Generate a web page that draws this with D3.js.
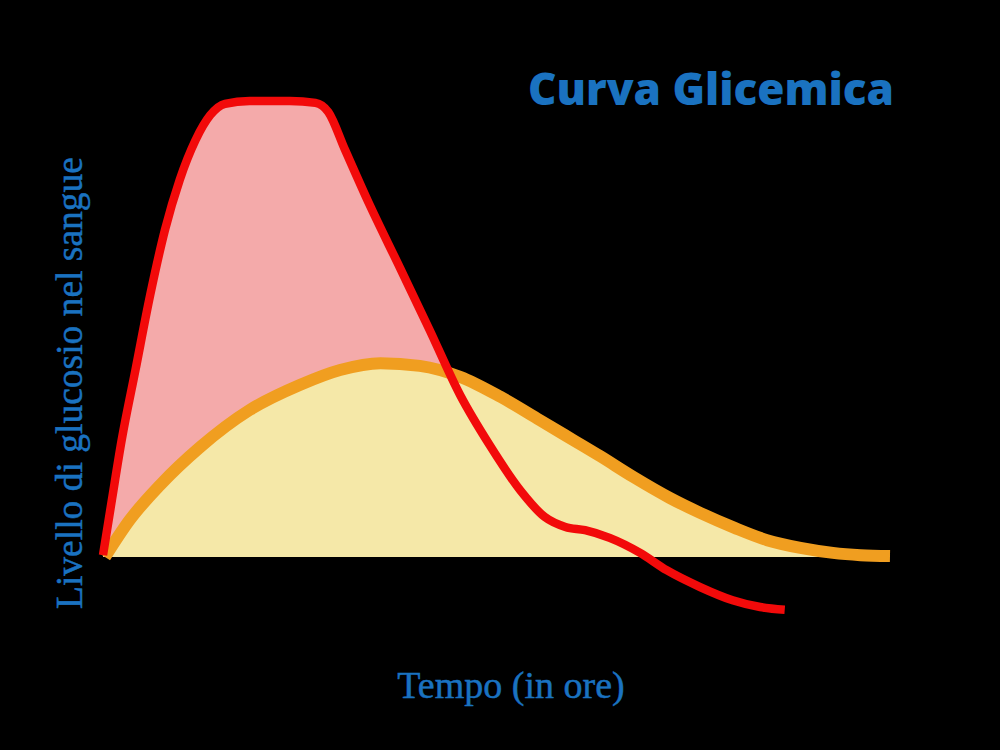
<!DOCTYPE html>
<html><head><meta charset="utf-8">
<script src="https://cdn.jsdelivr.net/npm/d3@7"></script>
<style>html,body{margin:0;padding:0;background:#000;}svg{display:block;}</style>
</head><body>
<script>
// Time (hours) and glucose level (relative units)
const redTimes = [0,0.09,0.19,0.33,0.48,0.63,0.78,0.94,1.09,1.24,1.49,1.90,2.16,2.29,2.46,2.71,3.02,3.32,3.63,3.93,4.24,4.49,4.70,4.90,5.15,5.46,5.73,6.07,6.40,6.68,6.93];
const redValues = [0.4,12.5,25.7,41.1,57.6,71.9,82.9,91.6,97.1,99.6,100.2,100.2,99.8,97.8,89.5,77.4,63.5,49.9,35.6,24.6,14.7,8.8,6.6,5.9,4.2,0.9,-2.9,-6.6,-9.5,-11.0,-11.6];
const orangeTimes = [0.02,0.27,0.58,0.99,1.49,2.00,2.41,2.82,3.22,3.63,4.04,4.44,4.78,5.05,5.39,5.76,6.07,6.42,6.75,7.09,7.42,7.70,8.00];
const orangeValues = [0,8.1,15.8,24.2,32.3,37.8,41.1,42.6,42.0,39.6,35.2,30.1,25.7,22.2,17.6,13.0,9.7,6.4,3.7,2.0,0.9,0.4,0.2];
const title = "Curva Glicemica";
const xLabel = "Tempo (in ore)";
const yLabel = "Livello di glucosio nel sangue";

const W = 1000, H = 750;
const svg = d3.select("body").append("svg").attr("width", W).attr("height", H);
svg.append("rect").attr("width", W).attr("height", H).attr("fill", "#000");

const x = d3.scaleLinear().domain([0, 8]).range([103, 890]);
const y = d3.scaleLinear().domain([0, 100]).range([557, 102]);

const red = redTimes.map((t, i) => ({t, v: redValues[i]}));
const orange = orangeTimes.map((t, i) => ({t, v: orangeValues[i]}));

const curve = d3.curveMonotoneX;

// pink area under red curve
svg.append("path").datum(red)
  .attr("fill", "#F4AAAA")
  .attr("d", d3.area().curve(curve).x(d => x(d.t)).y0(y(0)).y1(d => y(Math.max(d.v, 0))));

// yellow area under orange curve
svg.append("path").datum(orange)
  .attr("fill", "#F5E8A8")
  .attr("d", d3.area().curve(curve).x(d => x(d.t)).y0(y(0)).y1(d => y(d.v)));

// orange line
svg.append("path").datum(orange)
  .attr("fill", "none").attr("stroke", "#F09E20").attr("stroke-width", 12)
  .attr("d", d3.line().curve(curve).x(d => x(d.t)).y(d => y(d.v)));

// red line
svg.append("path").datum(red)
  .attr("fill", "none").attr("stroke", "#F20A0A").attr("stroke-width", 8.5)
  .attr("stroke-linejoin", "round")
  .attr("d", d3.line().curve(curve).x(d => x(d.t)).y(d => y(d.v)));

// title
svg.append("text").attr("x", 711).attr("y", 105).attr("text-anchor", "middle")
  .attr("font-family", "'Open Sans', sans-serif").attr("font-weight", 800)
  .attr("font-size", 45).attr("textLength", 366).attr("lengthAdjust", "spacingAndGlyphs")
  .attr("fill", "#1A72C0").text(title);

// x label
svg.append("text").attr("x", 511).attr("y", 698).attr("text-anchor", "middle")
  .attr("font-family", "'Liberation Serif', 'DejaVu Serif', serif")
  .attr("font-size", 38).attr("fill", "#1A72C0").attr("stroke", "#1A72C0").attr("stroke-width", 0.5)
  .text(xLabel);

// y label
svg.append("text").attr("transform", "translate(82,383) rotate(-90)").attr("text-anchor", "middle")
  .attr("font-family", "'Liberation Serif', 'DejaVu Serif', serif")
  .attr("font-size", 37.5).attr("fill", "#1A72C0").attr("stroke", "#1A72C0").attr("stroke-width", 0.5)
  .text(yLabel);
</script>
</body></html>
